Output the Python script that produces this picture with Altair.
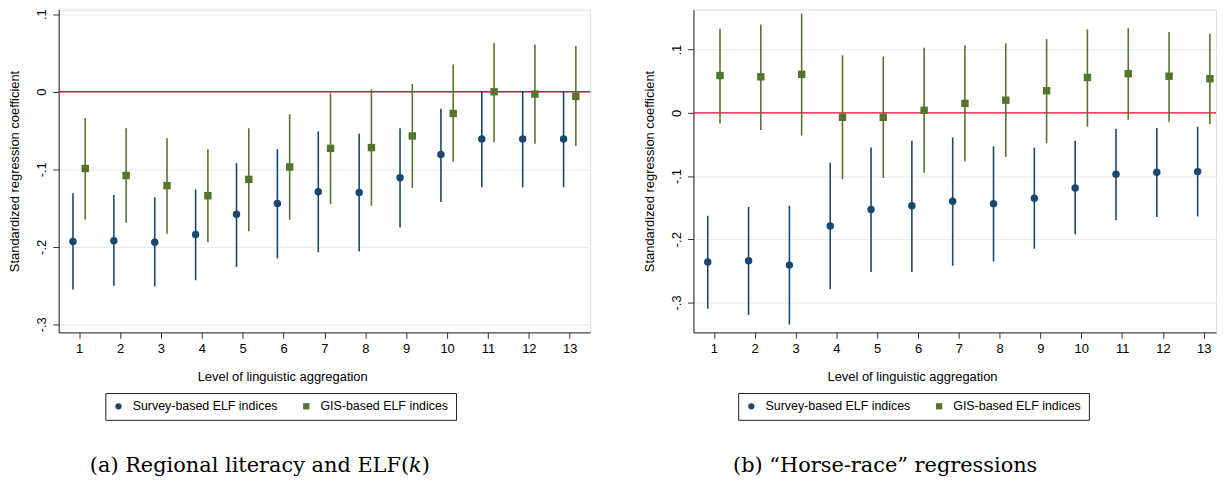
import altair as alt
import pandas as pd

levels = list(range(1, 14))
series_names = ["Survey-based ELF indices", "GIS-based ELF indices"]

# Panel (a): Regional literacy and ELF(k)
a_survey = [-0.193, -0.192, -0.194, -0.184, -0.158, -0.144, -0.129, -0.130, -0.111, -0.081, -0.061, -0.061, -0.061]
a_survey_hi = [-0.131, -0.133, -0.136, -0.126, -0.092, -0.074, -0.051, -0.054, -0.047, -0.022, 0.001, 0.001, 0.001]
a_survey_lo = [-0.255, -0.250, -0.251, -0.243, -0.226, -0.215, -0.207, -0.206, -0.175, -0.142, -0.123, -0.123, -0.123]
a_gis = [-0.099, -0.108, -0.121, -0.134, -0.113, -0.097, -0.073, -0.072, -0.057, -0.028, 0.000, -0.003, -0.006]
a_gis_hi = [-0.034, -0.047, -0.060, -0.074, -0.047, -0.029, -0.002, 0.003, 0.010, 0.035, 0.063, 0.061, 0.059]
a_gis_lo = [-0.165, -0.169, -0.183, -0.194, -0.180, -0.165, -0.145, -0.147, -0.124, -0.090, -0.065, -0.067, -0.070]

# Panel (b): "Horse-race" regressions
b_survey = [-0.236, -0.234, -0.241, -0.179, -0.153, -0.147, -0.140, -0.144, -0.135, -0.119, -0.097, -0.094, -0.093]
b_survey_hi = [-0.163, -0.149, -0.147, -0.079, -0.055, -0.044, -0.039, -0.053, -0.055, -0.044, -0.025, -0.024, -0.022]
b_survey_lo = [-0.310, -0.320, -0.335, -0.279, -0.252, -0.252, -0.242, -0.235, -0.215, -0.192, -0.170, -0.165, -0.164]
b_gis = [0.059, 0.057, 0.061, -0.007, -0.007, 0.004, 0.015, 0.020, 0.035, 0.056, 0.062, 0.058, 0.054]
b_gis_hi = [0.133, 0.140, 0.157, 0.091, 0.089, 0.103, 0.107, 0.110, 0.117, 0.132, 0.134, 0.128, 0.125]
b_gis_lo = [-0.017, -0.027, -0.036, -0.105, -0.103, -0.095, -0.077, -0.070, -0.048, -0.022, -0.011, -0.014, -0.018]

y_ticks = [-0.3, -0.2, -0.1, 0, 0.1]
y_tick_labels = ["-.3", "-.2", "-.1", "0", ".1"]

NAVY = "#1a476f"
GREEN = "#55752f"
RED = "#e8083e"
GRID = "#e6eef1"
FONT = "Liberation Sans"
SERIF = "DejaVu Serif"


def make_df(s, s_hi, s_lo, g, g_hi, g_lo):
    rows = []
    for i, lv in enumerate(levels):
        rows.append({"level": lv, "series": series_names[0], "coef": s[i], "hi": s_hi[i], "lo": s_lo[i], "off": -0.15})
        rows.append({"level": lv, "series": series_names[1], "coef": g[i], "hi": g_hi[i], "lo": g_lo[i], "off": 0.15})
    return pd.DataFrame(rows)


# label expression built from the tick/label lists
label_expr = "'" + y_tick_labels[-1] + "'"
for t, lab in zip(reversed(y_ticks[:-1]), reversed(y_tick_labels[:-1])):
    label_expr = f"abs(datum.value - ({t})) < 0.01 ? '{lab}' : ({label_expr})"


def panel(df, ydom, xdom, width, caption, cap_dx, title_x, legend_x):
    base = alt.Chart(df).transform_calculate(xpos="datum.level + datum.off")
    xenc = alt.X(
        "xpos:Q",
        scale=alt.Scale(domain=xdom, nice=False, zero=False),
        axis=alt.Axis(
            values=levels, title="Level of linguistic aggregation", grid=False,
            tickSize=6, tickColor="#333333", domainColor="#222222", labelFontSize=13,
            labelFont=FONT, titleFont=FONT, titleFontSize=13, titleFontWeight="normal",
            titleColor="black", labelColor="black", labelPadding=4,
            titleX=title_x, titleY=44, titleBaseline="middle", titleAlign="center",
        ),
    )
    yscale = alt.Scale(domain=ydom, nice=False, zero=False)
    yaxis = alt.Axis(
        values=y_ticks, title="Standardized regression coefficient", grid=True, gridColor=GRID,
        gridWidth=1.2, tickSize=6, tickColor="#333333", domainColor="#222222",
        labelAngle=270, labelAlign="center", labelBaseline="bottom", labelPadding=4,
        labelExpr=label_expr, labelFontSize=13, labelFont=FONT, labelColor="black",
        titleFont=FONT, titleFontSize=13, titleFontWeight="normal", titleColor="black",
        titleX=-44, titleBaseline="middle",
    )
    color_scale = alt.Scale(domain=series_names, range=[NAVY, GREEN])
    shape_scale = alt.Scale(domain=series_names, range=["circle", "square"])
    legend = alt.Legend(
        orient="none", legendX=legend_x, legendY=386, direction="horizontal", title=None,
        strokeColor="#222222", fillColor="white", padding=7, labelFont=FONT,
        labelFontSize=12.5, labelColor="black", symbolSize=40, labelOffset=8,
        columnPadding=22, symbolStrokeWidth=0,
    )

    zero = alt.Chart(pd.DataFrame({"z": [0]})).mark_rule(color=RED, strokeWidth=1.4).encode(
        y=alt.Y("z:Q", scale=yscale, axis=yaxis)
    )
    rules = base.mark_rule(strokeWidth=1.6).encode(
        x=xenc,
        y=alt.Y("lo:Q", scale=yscale, axis=yaxis),
        y2="hi:Q",
        color=alt.condition(alt.datum.series == series_names[0], alt.value(NAVY), alt.value(GREEN)),
    )
    pts = base.mark_point(filled=True, opacity=1, size=56).encode(
        x=xenc,
        y=alt.Y("coef:Q", scale=yscale, axis=yaxis),
        color=alt.Color("series:N", scale=color_scale, legend=legend),
        shape=alt.Shape("series:N", scale=shape_scale, legend=legend),
    )
    return alt.layer(zero, rules, pts).properties(
        width=width, height=325,
        title=alt.TitleParams(
            caption, orient="bottom", anchor="middle", font=SERIF, fontSize=21,
            fontWeight="normal", color="black", dx=cap_dx, offset=35,
        ),
    )


df_a = make_df(a_survey, a_survey_hi, a_survey_lo, a_gis, a_gis_hi, a_gis_lo)
df_b = make_df(b_survey, b_survey_hi, b_survey_lo, b_gis, b_gis_hi, b_gis_lo)

left = panel(df_a, [-0.3103, 0.106], [0.5, 13.5], 535, "(a) Regional literacy and ELF(\U0001D458)", -65, 225, 47)
right = panel(df_b, [-0.3475, 0.1635], [0.5, 13.3], 526, "(b) \u201cHorse-race\u201d regressions", -70, 220, 45)

chart = alt.hconcat(left, right, spacing=51).resolve_scale(
    color="independent", shape="independent"
).resolve_legend(color="independent", shape="independent").properties(
    padding={"left": 0, "top": -2, "right": 0, "bottom": 0}
).configure_view(stroke=None).configure(background="white")

chart.save("out.html", embed_options={"renderer": "svg", "actions": False})
